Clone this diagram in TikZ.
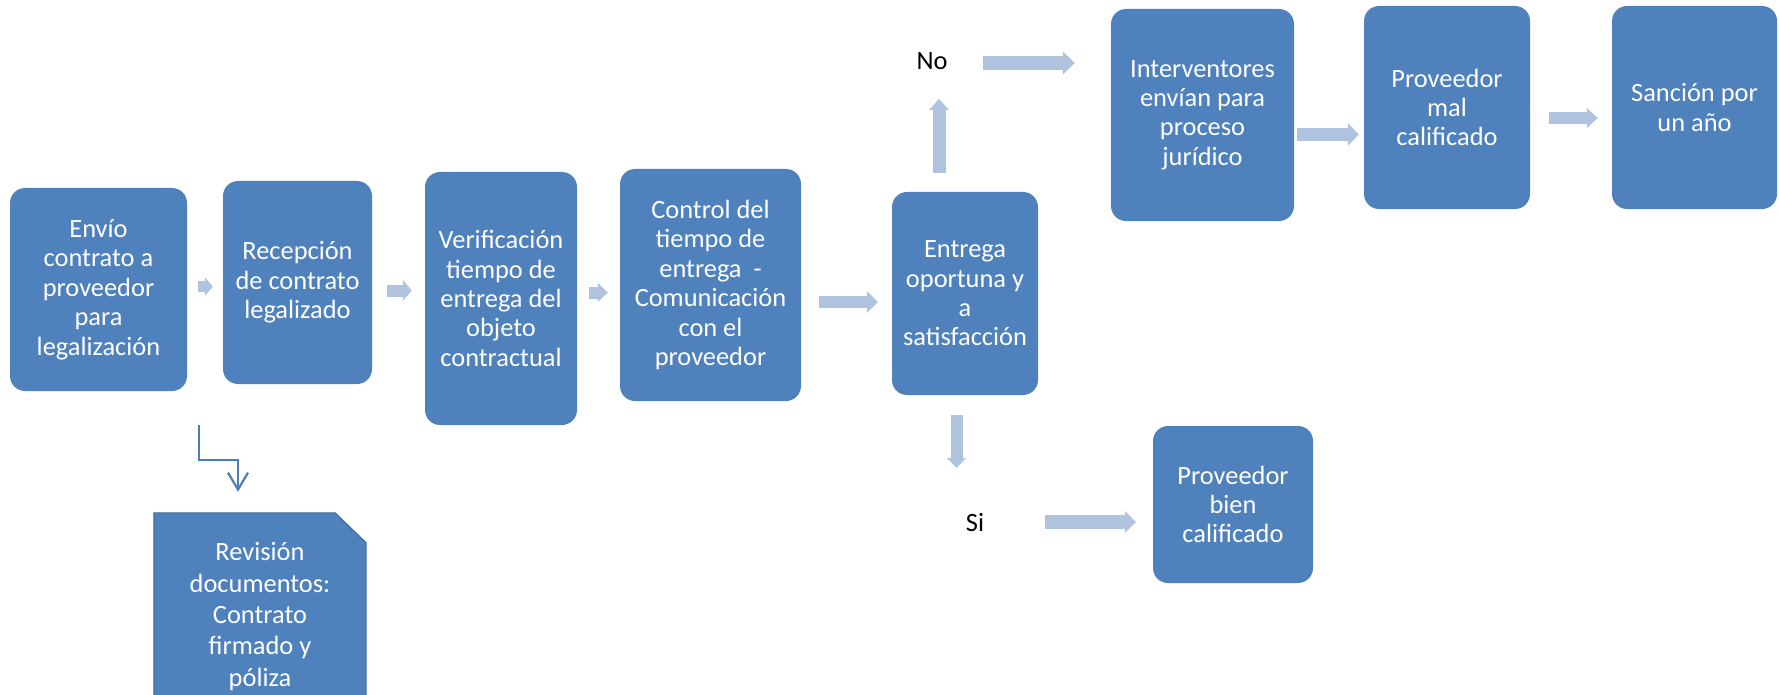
\documentclass[tikz,border=0pt]{standalone}
\usepackage{fontspec}
\setmainfont{Carlito}
\usetikzlibrary{arrows.meta,backgrounds}
\definecolor{boxblue}{HTML}{4F81BD}
\definecolor{arrowc}{HTML}{B0C3DE}
\definecolor{bentc}{HTML}{4A7EBB}
\definecolor{revline}{HTML}{3C6A9E}
\tikzset{
  box/.style={fill=boxblue, rounded corners=15pt, text=white, align=center, inner sep=0pt,
    font=\fontsize{26.4}{29.4}\selectfont},
  revtext/.style={text=white, align=center, inner sep=0pt, font=\fontsize{26.4}{31.3}\selectfont},
  lbl/.style={inner sep=0pt, text=black, font=\fontsize{26.4}{29.2}\selectfont},
  barrow/.style n args={3}{draw=arrowc, line width=#1pt,
    -{Triangle[length=#2pt, width=#3pt, line width=0pt]}},
  bent/.style={draw=bentc, line width=2.2pt, -{Straight Barb[length=17pt, width=20pt]}}
}
\begin{document}
\begin{tikzpicture}[x=1pt, y=-1pt]
\useasboundingbox (0,0) rectangle (1779,695);
\clip (0,0) rectangle (1779,695);
% process boxes
\node[box, minimum width=177pt, minimum height=203pt] (e1) at (98.5,289.5)
  {Envío\\contrato a\\proveedor\\para\\legalización};
\node[box, minimum width=149pt, minimum height=203pt] (e2) at (297.5,282.5)
  {Recepción\\de contrato\\legalizado};
\node[box, minimum width=152pt, minimum height=253pt] (e3) at (501,298.5)
  {Verificación\\tiempo de\\entrega del\\objeto\\contractual};
\node[box, minimum width=181pt, minimum height=232pt] (e4) at (710.5,285)
  {Control del\\tiempo de\\entrega\ \ -\\Comunicación\\con el\\proveedor};
\node[box, minimum width=146pt, minimum height=203pt] (e5) at (965,293.5)
  {Entrega\\oportuna y\\a\\satisfacción};
\node[box, minimum width=183pt, minimum height=212pt] (e6) at (1202.5,115)
  {Interventores\\envían para\\proceso\\jurídico};
\node[box, minimum width=166pt, minimum height=203pt] (e7) at (1447,107.5)
  {Proveedor\\mal\\calificado};
\node[box, minimum width=165pt, minimum height=203pt] (e8) at (1694.5,107.5)
  {Sanción por\\un año};
\node[box, minimum width=160pt, minimum height=157pt] (e9) at (1233,504.5)
  {Proveedor\\bien\\calificado};
% labels
\node[lbl] (no) at (932,61) {No};
\node[lbl] (si) at (975,522.5) {Si};
% document box with snipped corner
\node[revtext, minimum width=212pt, minimum height=207pt] (rev) at (260,616.5)
  {Revisión\\documentos:\\Contrato\\firmado y\\póliza};
\begin{scope}[on background layer]
\draw[fill=boxblue, draw=revline, line width=1pt]
  (rev.south west) -- (rev.north west) -- ([xshift=-31pt]rev.north east)
  -- ([yshift=-30pt]rev.north east) -- (rev.south east) -- cycle;
\end{scope}
% block arrows
\draw[barrow={11}{8}{19}] ([shift={(11,-3)}]e1.east) -- ([shift={(-10,4)}]e2.west);
\draw[barrow={12}{9}{21}] ([shift={(15,8)}]e2.east) -- ([shift={(-13,-8)}]e3.west);
\draw[barrow={12}{10}{19}] ([shift={(12,-6)}]e3.east) -- ([shift={(-12,7.5)}]e4.west);
\draw[barrow={12}{11}{22}] ([shift={(18,17)}]e4.east) -- ([shift={(-14,8.5)}]e5.west);
\draw[barrow={13}{11}{20}] ([shift={(-26,-19)}]e5.north) -- ([shift={(7,38)}]no.center);
\draw[barrow={14}{12}{23}] ([shift={(51,2)}]no.center) -- ([shift={(-36,-52)}]e6.west);
\draw[barrow={13}{11}{23}] ([shift={(3,19.5)}]e6.east) -- ([shift={(-5,27)}]e7.west);
\draw[barrow={12}{11}{20}] ([shift={(19,10.5)}]e7.east) -- ([shift={(-14,10.5)}]e8.west);
\draw[barrow={12}{10}{19}] ([shift={(-8.5,20)}]e5.south) -- ([shift={(-18.5,-54.5)}]si.center);
\draw[barrow={14}{11}{22}] ([shift={(70,-0.5)}]si.center) -- ([shift={(-17,17.5)}]e9.west);
% bent arrow
\coordinate (bs) at (199,425);
\draw[bent] (bs) -- ++(0,35) -| ([shift={(-22,-21)}]rev.north);
\end{tikzpicture}
\end{document}
